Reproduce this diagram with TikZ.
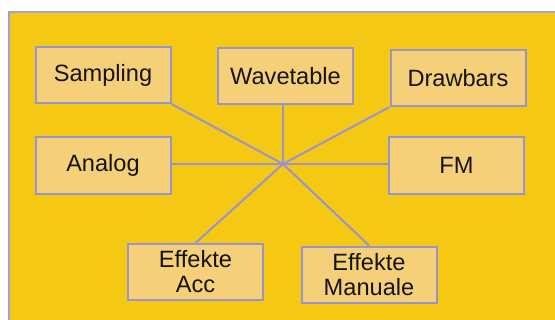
\documentclass[tikz,border=0pt]{standalone}
\usepackage{fontspec}
\setmainfont{Liberation Sans}
\usepackage{tikz}
\definecolor{panel}{RGB}{245,200,20}
\definecolor{boxfill}{RGB}{246,208,120}
\definecolor{boxline}{RGB}{150,148,212}
\definecolor{frameline}{RGB}{160,160,222}

\begin{document}
\begin{tikzpicture}[x=0.5pt, y=-0.5pt, font=\fontsize{11.8}{12.5}\selectfont,
  Module/.style={fill=boxfill, draw=boxline, line width=1pt, align=center, text=black!92, minimum width=67.5pt, minimum height=28pt, inner sep=0pt},
  Link/.style={draw=boxline, line width=1pt}]

\clip (0,0) rectangle (555,320);
\fill [white] (0,0) rectangle (555,320);
\filldraw [fill=panel, draw=frameline, line width=1pt] (9,12) rectangle (570,335);

\foreach \x/\y/\name/\lbl in {103/75/sampling/Sampling, 285.5/76/wavetable/Wavetable, 458/78/drawbars/Drawbars, 103/165.5/analog/Analog, 456.5/165.5/fm/FM} {
  \node [Module] (\name) at (\x, \y) {\lbl};
}

\node [Module] (acc) at (195.5, 272) {Effekte\\Acc};
\node [Module] (manuale) at (369, 274.5) {Effekte\\Manuale};

\coordinate (hub) at (283, 164);

\draw [Link] (sampling.south east) -- (hub);
\draw [Link] (hub |- wavetable.south) -- (hub);
\draw [Link] (drawbars.south west) -- (hub);
\draw [Link] (hub -| analog.east) -- (hub);
\draw [Link] (hub -| fm.west) -- (hub);
\draw [Link] (acc.north) -- (hub);
\draw [Link] (manuale.north) -- (hub);
\end{tikzpicture}
\end{document}
